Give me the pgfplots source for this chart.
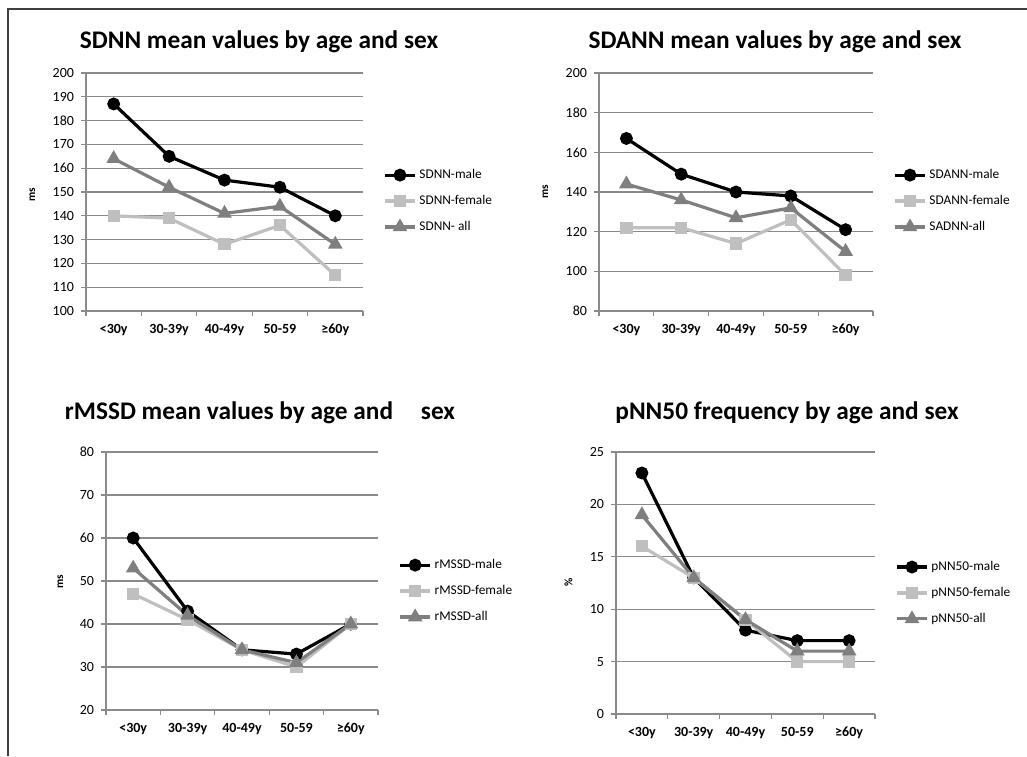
\documentclass[border=0pt]{standalone}
\usepackage{fontspec}
\setmainfont{Carlito}
\usepackage{pgfplots}
\pgfplotsset{compat=1.18}

\definecolor{fem}{HTML}{BFBFBF}
\definecolor{allc}{HTML}{7F7F7F}
\definecolor{gridc}{HTML}{8A8A8A}

\pgfplotsset{
  hrv/.style={
    scale only axis, clip=false,
    anchor=south west,
    xmin=0.5, xmax=5.5,
    xtick={1,2,3,4,5},
    xticklabels={<30y,30-39y,40-49y,50-59,≥60y},
    minor xtick={0.5,1.5,2.5,3.5,4.5,5.5},
    major x tick style={draw=none},
    tick align=outside,
    major tick length=3.5pt, minor tick length=3.5pt,
    tick style={gridc, line width=0.8pt},
    axis lines*=left,
    axis line style={-, gridc, line width=0.9pt},
    ymajorgrids,
    major grid style={gridc, line width=0.9pt},
    /pgf/number format/assume math mode=true,
    yticklabel style={font=\fontsize{10.5}{12}\selectfont, xshift=-2pt},
    xticklabel style={font=\bfseries\fontsize{10.5}{12}\selectfont, yshift=-3pt},
    ylabel style={font=\bfseries\fontsize{8.5}{10}\selectfont},
    legend cell align=left,
    legend style={draw=none, fill=none, anchor=west,
      font=\fontsize{10}{12}\selectfont, row sep=7pt, inner sep=0pt},
    legend image code/.code={\draw[mark repeat=2,mark phase=2]
      plot coordinates {(0cm,0cm) (0.4cm,0cm) (0.8cm,0cm)};},
    every axis plot/.append style={line width=2.4pt},
  },
  male/.style={black, mark=*, mark size=3.6pt, mark options={solid}},
  female/.style={fem, mark=square*, mark size=3.4pt, mark options={solid}},
  allp/.style={allc, mark=triangle*, mark size=4pt, mark options={solid}},
}

\begin{document}
\begin{tikzpicture}[x=0.75pt, y=-0.75pt]
\useasboundingbox (0,0) rectangle (1027,756);
\draw[line width=1.5pt, color=black!75] (8,756) -- (8,9) -- (1027,9);

% SDNN
\node[font=\bfseries\fontsize{19}{22}\selectfont] at (259,42) {SDNN mean values by age and sex};
\begin{axis}[hrv, at={(64.5pt,-233.25pt)}, width=207.75pt, height=178.5pt,
    ymin=100, ymax=200, ytick={100,110,...,200},
    ylabel={ms}, ylabel style={at={(axis description cs:-0.166,0.487)}},
    legend style={at={(axis description cs:1.072,0.462)}}]
  \addplot[male] coordinates {(1,187)(2,165)(3,155)(4,152)(5,140)};
  \addplot[female] coordinates {(1,140)(2,139)(3,128)(4,136)(5,115)};
  \addplot[allp] coordinates {(1,164)(2,152)(3,141)(4,144)(5,128)};
  \legend{SDNN-male,SDNN-female,SDNN- all}
\end{axis}

% SDANN
\node[font=\bfseries\fontsize{19}{22}\selectfont] at (775,42) {SDANN mean values by age and sex};
\begin{axis}[hrv, at={(449.25pt,-233.25pt)}, width=205.5pt, height=178.5pt,
    ymin=80, ymax=200, ytick={80,100,...,200},
    ylabel={ms}, ylabel style={at={(axis description cs:-0.168,0.5)}},
    legend style={at={(axis description cs:1.073,0.462)}}]
  \addplot[male] coordinates {(1,167)(2,149)(3,140)(4,138)(5,121)};
  \addplot[female] coordinates {(1,122)(2,122)(3,114)(4,126)(5,98)};
  \addplot[allp] coordinates {(1,144)(2,136)(3,127)(4,132)(5,110)};
  \legend{SDANN-male,SDANN-female,SADNN-all}
\end{axis}

% rMSSD
\node[font=\bfseries\fontsize{19}{22}\selectfont] at (260,413) {rMSSD mean values by age and\hspace{1.1em}sex};
\begin{axis}[hrv, at={(79.5pt,-532.5pt)}, width=204pt, height=193.5pt,
    ymin=20, ymax=80, ytick={20,30,...,80},
    ylabel={ms}, ylabel style={at={(axis description cs:-0.14,0.496)}},
    legend style={at={(axis description cs:1.074,0.461)}}]
  \addplot[male] coordinates {(1,60)(2,43)(3,34)(4,33)(5,40)};
  \addplot[female] coordinates {(1,47)(2,41)(3,34)(4,30)(5,40)};
  \addplot[allp] coordinates {(1,53)(2,42)(3,34)(4,31)(5,40)};
  \legend{rMSSD-male,rMSSD-female,rMSSD-all}
\end{axis}

% pNN50
\node[font=\bfseries\fontsize{19}{22}\selectfont] at (787,413) {pNN50 frequency by age and sex};
\begin{axis}[hrv, at={(462pt,-535.5pt)}, width=194.25pt, height=196.5pt,
    ymin=0, ymax=25, ytick={0,5,...,25},
    ylabel={\%}, ylabel style={at={(axis description cs:-0.15,0.504)}},
    legend style={at={(axis description cs:1.077,0.462)}}]
  \addplot[male] coordinates {(1,23)(2,13)(3,8)(4,7)(5,7)};
  \addplot[female] coordinates {(1,16)(2,13)(3,9)(4,5)(5,5)};
  \addplot[allp] coordinates {(1,19)(2,13)(3,9)(4,6)(5,6)};
  \legend{pNN50-male,pNN50-female,pNN50-all}
\end{axis}
\end{tikzpicture}
\end{document}
